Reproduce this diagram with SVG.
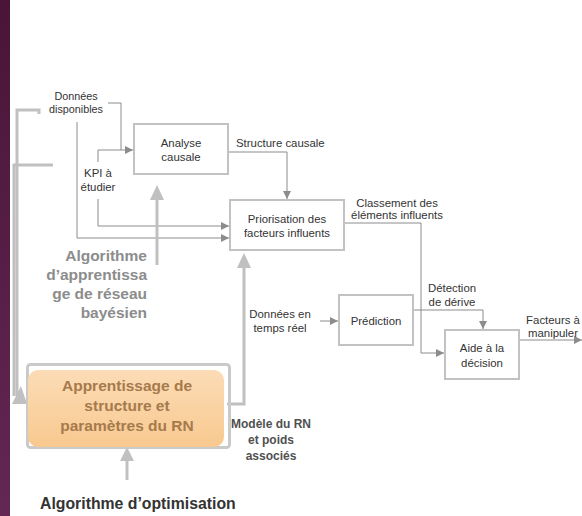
<svg xmlns="http://www.w3.org/2000/svg" width="582" height="516" viewBox="0 0 582 516">
  <defs>
    <linearGradient id="band" x1="0" y1="0" x2="0" y2="1">
      <stop offset="0" stop-color="#4a1538"/>
      <stop offset="1" stop-color="#622754"/>
    </linearGradient>
    <linearGradient id="peach" x1="0" y1="0" x2="0" y2="1">
      <stop offset="0" stop-color="#fcdcb6"/>
      <stop offset="1" stop-color="#f8c98f"/>
    </linearGradient>
    <marker id="tip" viewBox="0 0 8 8" refX="8" refY="4" markerWidth="8" markerHeight="8" markerUnits="userSpaceOnUse" orient="auto">
      <path d="M0,0 L8,4 L0,8 z" fill="#8c8c8c"/>
    </marker>
    <style>
      .box { fill: #ffffff; stroke: #c2c2c2; stroke-width: 2; }
      .wire { fill: none; stroke: #8c8c8c; stroke-width: 1; }
      .thick { fill: none; stroke: #c0c0c0; stroke-width: 3; }
      .head { fill: #c0c0c0; }
      .lbl { font-family: "Liberation Sans", Arial, sans-serif; font-size: 11.4px; fill: #333333; text-anchor: middle; }
      .lbl.small { font-size: 10.8px; }
      .lbl.left { text-anchor: start; }
      .algo { font-family: "Liberation Sans", Arial, sans-serif; font-size: 15.5px; font-weight: bold; fill: #8c8c8c; text-anchor: end; }
      .rn { font-family: "Liberation Sans", Arial, sans-serif; font-size: 15.5px; font-weight: bold; fill: #a57a4c; text-anchor: middle; }
      .model { font-family: "Liberation Sans", Arial, sans-serif; font-size: 12px; font-weight: bold; fill: #505050; text-anchor: middle; }
      .opt { font-family: "Liberation Sans", Arial, sans-serif; font-size: 15.8px; font-weight: bold; fill: #333333; }
    </style>
  </defs>

  <rect x="0" y="0" width="582" height="516" fill="#ffffff"/>
  <rect x="0" y="0" width="10" height="516" fill="url(#band)"/>

  <g id="connectors">
    <!-- thin data flows -->
    <path class="wire" d="M108,103 H121 V150"/>
    <path class="wire" d="M98,162 V150 H133" marker-end="url(#tip)"/>
    <path class="wire" d="M98,199 V226 H229" marker-end="url(#tip)"/>
    <path class="wire" d="M77,122 V238 H229" marker-end="url(#tip)"/>
    <path class="wire" d="M228,152 H287 V199" marker-end="url(#tip)"/>
    <path class="wire" d="M344,223 H421 V353 H444" marker-end="url(#tip)"/>
    <path class="wire" d="M320,321 H338" marker-end="url(#tip)"/>
    <path class="wire" d="M413,310 H483 V329" marker-end="url(#tip)"/>
    <path class="wire" d="M519,340 H582" marker-end="url(#tip)"/>

    <!-- thick feedback / learning flows -->
    <path class="thick" d="M39,114 V110 H17 V396"/>
    <path class="thick" d="M53,165 H14 V396"/>
    <polygon class="head" points="21,386 12,404 27,404"/>
    <path class="thick" d="M157,265 V199"/>
    <polygon class="head" points="157,185 150,200 164,200"/>
    <path class="thick" d="M227,404 H244 V267"/>
    <polygon class="head" points="244,253 237,268 251,268"/>
    <path class="thick" d="M127,480 V460"/>
    <polygon class="head" points="127,447 120,461 134,461"/>
  </g>

  <g id="donnees-disponibles">
    <text class="lbl small" x="76" y="100">Données</text>
    <text class="lbl small" x="76" y="113">disponibles</text>
  </g>

  <g id="kpi">
    <text class="lbl" x="98" y="177">KPI à</text>
    <text class="lbl" x="98" y="191">étudier</text>
  </g>

  <g id="analyse-causale">
    <rect class="box" x="134" y="124" width="94" height="50"/>
    <text class="lbl" x="181" y="147">Analyse</text>
    <text class="lbl" x="181" y="161">causale</text>
  </g>

  <g id="structure-causale">
    <text class="lbl left" x="236" y="147">Structure causale</text>
  </g>

  <g id="priorisation">
    <rect class="box" x="230" y="200" width="114" height="50"/>
    <text class="lbl" x="287" y="223">Priorisation des</text>
    <text class="lbl" x="287" y="237">facteurs influents</text>
  </g>

  <g id="classement">
    <text class="lbl" x="397" y="207">Classement des</text>
    <text class="lbl" x="397" y="219">éléments influents</text>
  </g>

  <g id="algo-bayesien">
    <text class="algo" x="147" y="261">Algorithme</text>
    <text class="algo" x="147" y="280">d’apprentissa</text>
    <text class="algo" x="147" y="299">ge de réseau</text>
    <text class="algo" x="147" y="318">bayésien</text>
  </g>

  <g id="donnees-temps-reel">
    <text class="lbl" x="280" y="318">Données en</text>
    <text class="lbl" x="280" y="332">temps réel</text>
  </g>

  <g id="prediction">
    <rect class="box" x="339" y="295" width="74" height="50"/>
    <text class="lbl" x="376" y="325">Prédiction</text>
  </g>

  <g id="detection">
    <text class="lbl" x="452" y="292">Détection</text>
    <text class="lbl" x="452" y="306">de dérive</text>
  </g>

  <g id="aide-decision">
    <rect class="box" x="445" y="330" width="74" height="49"/>
    <text class="lbl" x="482" y="352">Aide à la</text>
    <text class="lbl" x="482" y="367">décision</text>
  </g>

  <g id="facteurs">
    <text class="lbl" x="553" y="324">Facteurs à</text>
    <text class="lbl" x="553" y="337">manipuler</text>
  </g>

  <g id="apprentissage-rn">
    <rect x="27.5" y="364.5" width="202" height="83" rx="3" fill="none" stroke="#cacaca" stroke-width="3"/>
    <rect x="28" y="370" width="196" height="77" rx="10" fill="url(#peach)"/>
    <text class="rn" x="127" y="391">Apprentissage de</text>
    <text class="rn" x="127" y="411">structure et</text>
    <text class="rn" x="127" y="431">paramètres du RN</text>
  </g>

  <g id="modele-rn">
    <text class="model" x="271" y="428">Modèle du RN</text>
    <text class="model" x="271" y="444">et poids</text>
    <text class="model" x="271" y="460">associés</text>
  </g>

  <g id="algo-optimisation">
    <text class="opt" x="40" y="509">Algorithme d’optimisation</text>
  </g>
</svg>
